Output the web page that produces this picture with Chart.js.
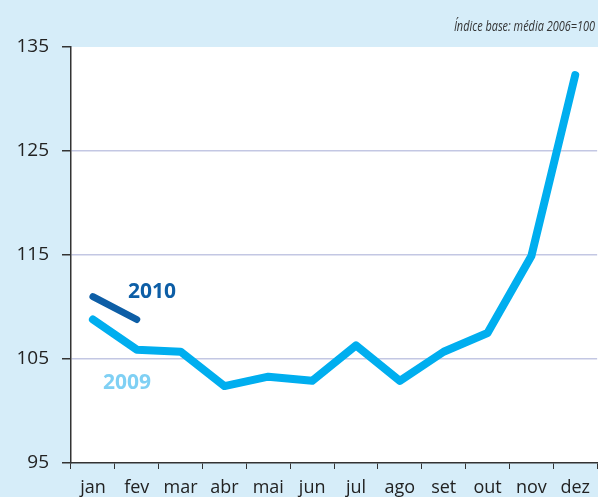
<!DOCTYPE html>
<html>
<head>
<meta charset="utf-8">
<script src="https://cdn.jsdelivr.net/npm/chart.js@4.4.1/dist/chart.umd.min.js"></script>
<style>
  html, body { margin: 0; padding: 0; background: #d6edf9; }
  #wrap { width: 598px; height: 497px; position: relative; }
</style>
</head>
<body>
<div id="wrap"><canvas id="chart" width="598" height="497"></canvas></div>
<script>
const months = ['jan', 'fev', 'mar', 'abr', 'mai', 'jun', 'jul', 'ago', 'set', 'out', 'nov', 'dez'];
const values2009 = [108.8, 105.9, 105.7, 102.4, 103.3, 102.9, 106.3, 102.9, 105.7, 107.5, 114.9, 132.3];
const values2010 = [111.0, 108.8, null, null, null, null, null, null, null, null, null, null];
const yTicks = [95, 105, 115, 125, 135];
const subtitle = 'Índice base: média 2006=100';

const FONT = '"Open Sans", "DejaVu Sans", sans-serif';

// fundo azul claro + área do gráfico branca
const backgroundPlugin = {
    id: 'bg',
    beforeDraw(chart) {
        const { ctx, chartArea } = chart;
        ctx.save();
        ctx.fillStyle = '#d6edf9';
        ctx.fillRect(0, 0, chart.width, chart.height);
        ctx.fillStyle = '#ffffff';
        ctx.fillRect(chartArea.left, chartArea.top, chart.width - chartArea.left, chartArea.bottom - chartArea.top);
        ctx.restore();
    }
};

// textos: subtítulo e nomes das séries
const labelsPlugin = {
    id: 'labels',
    afterDraw(chart) {
        const { ctx, scales } = chart;
        const x = scales.x, y = scales.y;
        ctx.save();
        // subtítulo em itálico, ligeiramente condensado
        ctx.font = 'italic 14px ' + FONT;
        ctx.fillStyle = '#333333';
        ctx.textAlign = 'right';
        ctx.textBaseline = 'middle';
        ctx.translate(595, 27);
        ctx.scale(0.78, 1);
        ctx.fillText(subtitle, 0, 0);
        ctx.restore();

        ctx.save();
        ctx.font = 'bold 21px ' + FONT;
        ctx.textAlign = 'left';
        ctx.textBaseline = 'middle';
        ctx.fillStyle = '#0d5ea6';
        ctx.fillText('2010', x.getPixelForValue(0) + 35, y.getPixelForValue(111.4));
        ctx.fillStyle = '#7fd0f4';
        ctx.fillText('2009', x.getPixelForValue(0) + 10, y.getPixelForValue(102.7));
        ctx.restore();
    }
};

new Chart(document.getElementById('chart'), {
    type: 'line',
    data: {
        labels: months,
        datasets: [
            {
                label: '2009',
                data: values2009,
                borderColor: '#00aeef',
                borderWidth: 8,
                borderCapStyle: 'round',
                borderJoinStyle: 'round',
                pointRadius: 0,
                tension: 0
            },
            {
                label: '2010',
                data: values2010,
                borderColor: '#0d5ea6',
                borderWidth: 7,
                borderCapStyle: 'round',
                borderJoinStyle: 'round',
                pointRadius: 0,
                tension: 0,
                spanGaps: false
            }
        ]
    },
    options: {
        responsive: false,
        animation: false,
        layout: { padding: { top: 47, right: 0, left: 0, bottom: 0 } },
        plugins: {
            legend: { display: false },
            tooltip: { enabled: false }
        },
        scales: {
            x: {
                offset: true,
                afterFit(scale) { scale.height = 34; },
                grid: {
                    offset: true,
                    drawOnChartArea: false,
                    drawTicks: true,
                    tickLength: 6,
                    tickColor: '#333333'
                },
                border: { display: true, color: '#333333', width: 1.5 },
                ticks: {
                    color: '#222222',
                    padding: 8,
                    font: { family: FONT, size: 18 },
                    maxRotation: 0,
                    autoSkip: false
                }
            },
            y: {
                min: 95,
                max: 135,
                afterFit(scale) { scale.width = 71; },
                afterBuildTicks(scale) { scale.ticks = yTicks.map(v => ({ value: v })); },
                grid: {
                    color: ctx => (ctx.tick && (ctx.tick.value === 135 || ctx.tick.value === 95)) ? 'rgba(0,0,0,0)' : '#c3c7e3',
                    lineWidth: 1.5,
                    drawTicks: true,
                    tickLength: 9,
                    tickColor: '#333333'
                },
                border: { display: true, color: '#333333', width: 1.5 },
                ticks: {
                    color: '#222222',
                    padding: 13,
                    font: { family: FONT, size: 19 }
                }
            }
        }
    },
    plugins: [backgroundPlugin, labelsPlugin]
});
</script>
</body>
</html>
